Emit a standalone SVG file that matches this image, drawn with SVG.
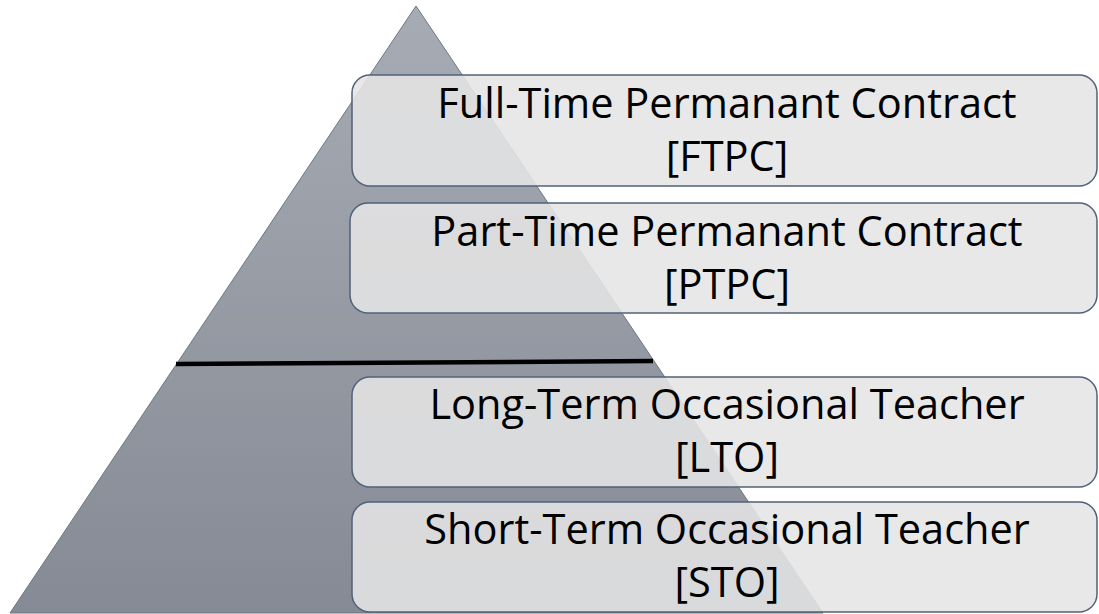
<svg xmlns="http://www.w3.org/2000/svg" width="1099" height="614" viewBox="0 0 1099 614">
<defs>
<linearGradient id="tri" x1="0" y1="0" x2="0" y2="1">
<stop offset="0" stop-color="#a6abb4"/>
<stop offset="1" stop-color="#858a94"/>
</linearGradient>
</defs>
<style>
.box{fill:#e5e5e5;fill-opacity:0.88;stroke:#52627a;stroke-width:1.5}
.t{font-family:"Open Sans","Liberation Sans",sans-serif;font-size:41.5px;fill:#000;text-anchor:middle}
</style>
<rect width="1099" height="614" fill="#ffffff"/>
<g id="pyramid">
<polygon points="416,6 823,613 10,613" fill="url(#tri)" stroke="#6f7682" stroke-width="1"/>
</g>
<g id="connectors">
<line x1="176" y1="364" x2="653" y2="361" stroke="#000" stroke-width="4.5"/>
</g>
<g id="ftpc">
<rect class="box" x="352" y="75" width="745" height="111" rx="18"/>
<text class="t" x="727" y="118">Full-Time Permanant Contract</text>
<text class="t" x="727" y="171">[FTPC]</text>
</g>
<g id="ptpc">
<rect class="box" x="350" y="203" width="747" height="110" rx="18"/>
<text class="t" x="727" y="246">Part-Time Permanant Contract</text>
<text class="t" x="727" y="299">[PTPC]</text>
</g>
<g id="lto">
<rect class="box" x="352" y="377" width="745" height="110" rx="18"/>
<text class="t" x="727" y="419">Long-Term Occasional Teacher</text>
<text class="t" x="727" y="472">[LTO]</text>
</g>
<g id="sto">
<rect class="box" x="352" y="502" width="745" height="110" rx="18"/>
<text class="t" x="727" y="544">Short-Term Occasional Teacher</text>
<text class="t" x="727" y="597">[STO]</text>
</g>
</svg>
